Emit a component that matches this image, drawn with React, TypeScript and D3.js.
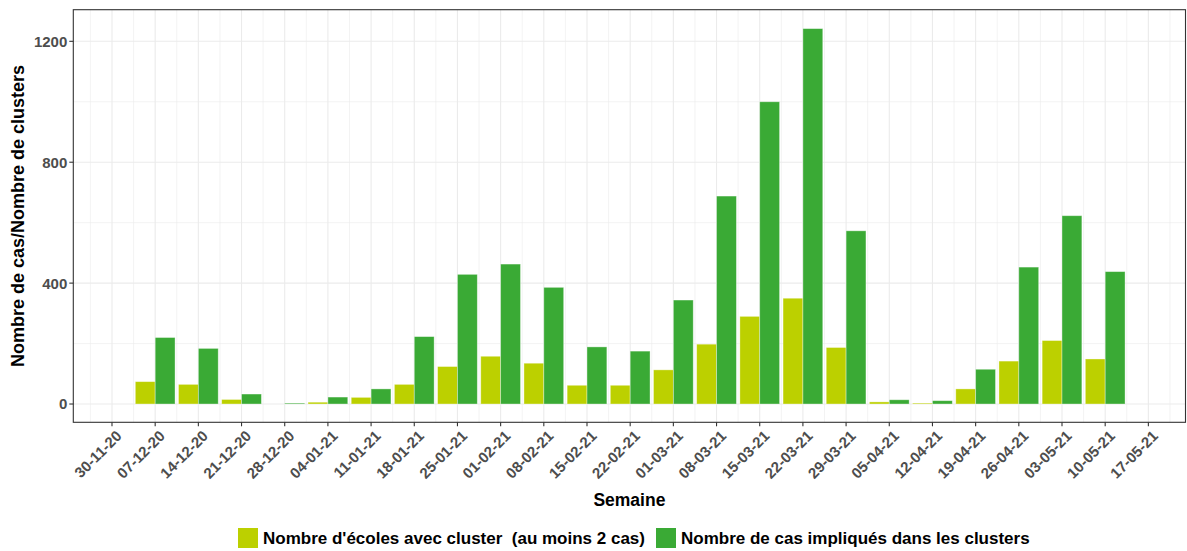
import React from "react";
import * as d3 from "d3";

const weeks = [
  "30-11-20", "07-12-20", "14-12-20", "21-12-20", "28-12-20", "04-01-21", "11-01-21",
  "18-01-21", "25-01-21", "01-02-21", "08-02-21", "15-02-21", "22-02-21", "01-03-21",
  "08-03-21", "15-03-21", "22-03-21", "29-03-21", "05-04-21", "12-04-21", "19-04-21",
  "26-04-21", "03-05-21", "10-05-21", "17-05-21",
];
const ecoles: (number | null)[] = [
  null, 74, 65, 15, null, 6, 22, 65, 124, 158, 135, 62, 62, 113, 198, 290, 350, 187, 7, 3, 50, 142, 210, 149, null,
];
const cas: (number | null)[] = [
  null, 220, 184, 33, 3, 23, 50, 223, 429, 463, 386, 189, 175, 344, 688, 1000, 1242, 573, 14, 11, 115, 453, 623, 438, null,
];
const yTicks = [0, 400, 800, 1200];
const yMinor = [200, 600, 1000];
const seriesNames = ["Nombre d'écoles avec cluster  (au moins 2 cas)", "Nombre de cas impliqués dans les clusters"];
const colors = ["#BCD000", "#3AAA35"];

const W = 1187, H = 551;
const panel = { left: 73.3, right: 1185.5, top: 9.7, bottom: 422.3 };
const WEEK = 7 * 24 * 3600 * 1000;
const FONT = "'Liberation Sans', Arial, sans-serif";

export default function App() {
  const parse = d3.utcParse("%d-%m-%y");
  const dates = weeks.map((w) => parse(w) as Date);
  const x = d3
    .scaleUtc()
    .domain([new Date(+dates[0] - 0.896 * WEEK), new Date(+dates[dates.length - 1] + 0.86 * WEEK)])
    .range([panel.left, panel.right]);
  const y = d3.scaleLinear().domain([-60.5, 1304.6]).range([panel.bottom, panel.top]);
  const half = x(new Date(+dates[0] + 0.46 * WEEK)) - x(dates[0]);
  const minorX = dates.map((d) => new Date(+d - 0.5 * WEEK)).concat([new Date(+dates[dates.length - 1] + 0.5 * WEEK)]);

  const bars: React.ReactNode[] = [];
  dates.forEach((d, i) => {
    const cx = x(d);
    const e = ecoles[i];
    const c = cas[i];
    if (e != null) {
      bars.push(
        <rect key={"e" + i} x={cx - half} width={half} y={y(e)} height={y(0) - y(e)}
          fill={colors[0]} stroke="#ffffff" strokeOpacity={0.45} strokeWidth={0.8} />
      );
    }
    if (c != null) {
      bars.push(
        <rect key={"c" + i} x={cx} width={half} y={y(c)} height={y(0) - y(c)}
          fill={colors[1]} stroke="#ffffff" strokeOpacity={0.45} strokeWidth={0.8} />
      );
    }
  });

  return (
    <svg width={W} height={H} style={{ position: "absolute", left: 0, top: 0 }} fontFamily={FONT}>
      <rect x={0} y={0} width={W} height={H} fill="#ffffff" />
      <g>
        {yMinor.map((v) => (
          <line key={"ym" + v} x1={panel.left} x2={panel.right} y1={y(v)} y2={y(v)} stroke="#EBEBEB" strokeWidth={0.6} />
        ))}
        {minorX.map((d, i) => (
          <line key={"xm" + i} x1={x(d)} x2={x(d)} y1={panel.top} y2={panel.bottom} stroke="#EBEBEB" strokeWidth={0.6} />
        ))}
        {yTicks.map((v) => (
          <line key={"yM" + v} x1={panel.left} x2={panel.right} y1={y(v)} y2={y(v)} stroke="#EBEBEB" strokeWidth={1.1} />
        ))}
        {dates.map((d, i) => (
          <line key={"xM" + i} x1={x(d)} x2={x(d)} y1={panel.top} y2={panel.bottom} stroke="#EBEBEB" strokeWidth={1.1} />
        ))}
      </g>
      <g>{bars}</g>
      <rect x={panel.left} y={panel.top} width={panel.right - panel.left} height={panel.bottom - panel.top}
        fill="none" stroke="#333333" strokeWidth={1.1} />
      {yTicks.map((v) => (
        <g key={"yt" + v}>
          <line x1={panel.left - 4} x2={panel.left} y1={y(v)} y2={y(v)} stroke="#333333" strokeWidth={1.1} />
          <text x={panel.left - 6} y={y(v)} dy="0.36em" textAnchor="end" fontSize={15} fontWeight="bold" fill="#4D4D4D">
            {v}
          </text>
        </g>
      ))}
      {dates.map((d, i) => (
        <g key={"xt" + i}>
          <line x1={x(d)} x2={x(d)} y1={panel.bottom} y2={panel.bottom + 4} stroke="#333333" strokeWidth={1.1} />
          <text transform={`translate(${x(d) + 3},${panel.bottom + 7}) rotate(-45)`} dy="0.72em" textAnchor="end"
            fontSize={15} fontWeight="bold" fill="#4D4D4D">
            {weeks[i]}
          </text>
        </g>
      ))}
      <text x={(panel.left + panel.right) / 2} y={506} textAnchor="middle" fontSize={17.5} fontWeight="bold" fill="#000">
        Semaine
      </text>
      <text transform={`translate(24,${(panel.top + panel.bottom) / 2}) rotate(-90)`} textAnchor="middle"
        fontSize={18} fontWeight="bold" fill="#000">
        Nombre de cas/Nombre de clusters
      </text>
      <g>
        <rect x={238} y={528} width={20} height={20} fill={colors[0]} />
        <text x={263} y={538} dy="0.36em" fontSize={17} fontWeight="bold" fill="#000" style={{ whiteSpace: "pre" }}>
          {seriesNames[0]}
        </text>
        <rect x={656} y={528} width={20} height={20} fill={colors[1]} />
        <text x={681} y={538} dy="0.36em" fontSize={17} fontWeight="bold" fill="#000">
          {seriesNames[1]}
        </text>
      </g>
    </svg>
  );
}
